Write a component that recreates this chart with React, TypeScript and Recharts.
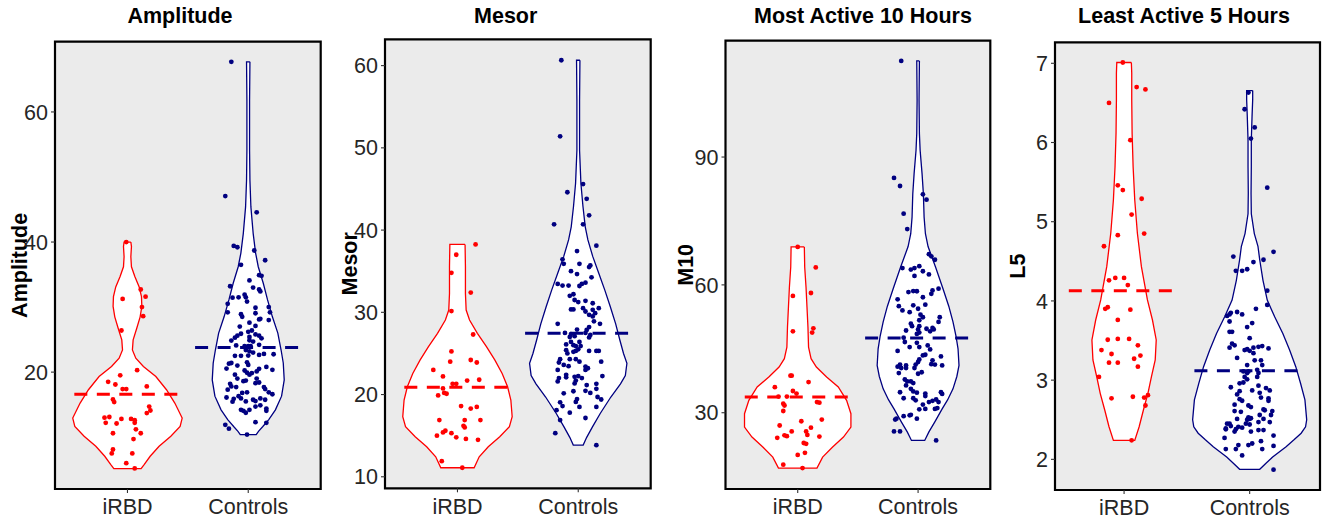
import React from 'react';
import { ScatterChart, Scatter, XAxis, YAxis, CartesianGrid, ReferenceArea } from 'recharts';

const FONT = '"Liberation Sans", Arial, Helvetica, sans-serif';
const RED = '#FF0000';
const NAVY = '#000080';

const GROUPS = ['iRBD', 'Controls'];
const TITLES = ['Amplitude', 'Mesor', 'Most Active 10 Hours', 'Least Active 5 Hours'];
const Y_LABELS = ['Amplitude', 'Mesor', 'M10', 'L5'];

// ---- Amplitude ----
const AMP_DOMAIN = [2.03, 70.8];
const AMP_TICKS = [20, 40, 60];
const AMP_MEANS = [16.6, 23.8];
// [y, half width] read top to bottom
const AMP_IRBD_VIOLIN = [
  [40.0, 0.028], [39.3, 0.033], [37.75, 0.028], [36.2, 0.033], [34.7, 0.061], [33.1, 0.097],
  [31.6, 0.116], [30.1, 0.119], [28.5, 0.105], [26.75, 0.077], [24.96, 0.047], [23.4, 0.041],
  [22.15, 0.069], [20.87, 0.132], [19.33, 0.235], [17.29, 0.323], [15.24, 0.392], [12.94, 0.453],
  [11.66, 0.436], [10.13, 0.359], [8.59, 0.262], [7.06, 0.188], [5.78, 0.138], [5.17, 0.113],
];
const AMP_CTRL_VIOLIN = [
  [67.7, 0.014], [61.8, 0.011], [54.1, 0.011], [49.5, 0.014], [45.4, 0.022], [41.3, 0.041],
  [38.3, 0.061], [36.2, 0.083], [33.7, 0.124], [31.1, 0.16], [28.5, 0.2], [26.0, 0.245],
  [23.4, 0.272], [21.4, 0.29], [18.8, 0.298], [16.3, 0.276], [14.2, 0.225], [12.7, 0.17],
  [11.6, 0.119], [10.9, 0.085], [10.4, 0.066],
];
// [x offset from group, y]
const AMP_IRBD_POINTS = [
  [-0.01, 40.0], [-0.04, 31.25], [0.11, 32.7], [0.15, 31.6], [0.12, 30.0], [0.13, 28.6], [-0.05, 26.4],
  [0.08, 20.3], [-0.06, 19.5], [-0.16, 18.5], [-0.1, 18.1], [-0.04, 17.4], [-0.01, 17.4], [0.16, 17.8],
  [-0.12, 15.8], [-0.11, 15.4], [0.18, 14.7], [0.19, 14.1], [0.16, 13.7], [-0.19, 13.0], [-0.15, 13.1],
  [-0.18, 12.2], [-0.09, 12.1], [-0.05, 12.8], [0.03, 12.8], [0.06, 12.6], [0.06, 12.2], [-0.12, 10.6],
  [0.07, 11.2], [0.11, 10.6], [0.05, 9.7], [-0.12, 8.1], [-0.13, 7.5], [0.04, 7.5], [-0.01, 6.0], [0.06, 5.2],
];
const AMP_CTRL_POINTS = [
  [-0.14, 67.7], [-0.19, 47.06], [0.07, 44.56], [-0.12, 39.4], [-0.09, 39.2], [0.05, 38.7], [0.14, 37.2],
  [-0.06, 36.5], [0.01, 34.1], [0.09, 34.9], [0.11, 34.8], [-0.15, 33.2], [0.04, 33.0], [0.09, 32.7],
  [0.1, 32.4], [-0.13, 31.45], [-0.08, 31.5], [-0.03, 31.9], [-0.02, 31.5], [-0.01, 30.85], [-0.17, 30.5],
  [0.17, 30.0], [0.06, 29.9], [-0.17, 29.2], [0.06, 29.05], [0.18, 29.2], [-0.06, 28.9], [-0.05, 28.5],
  [0.1, 28.2], [0.09, 28.1], [0.17, 28.0], [0.01, 27.6], [-0.07, 27.0], [0.06, 27.1], [0, 26.2],
  [0.03, 26.4], [-0.06, 25.9], [-0.09, 25.6], [0.06, 25.8], [0.09, 25.6], [-0.11, 25.3], [0.01, 25.4],
  [0.01, 24.9], [0.11, 25.2], [0.04, 24.7], [-0.14, 24.85], [-0.1, 24.1], [-0.03, 24.0], [0, 24.0],
  [0.02, 24.0], [0.09, 24.2], [-0.02, 23.4], [0.01, 23.2], [0.04, 23.0], [-0.11, 22.5], [-0.06, 22.5],
  [0, 22.55], [0.09, 22.65], [0.13, 22.8], [0.21, 22.75], [-0.16, 21.3], [-0.14, 21.4], [-0.18, 20.55],
  [-0.09, 21.0], [-0.01, 21.5], [0, 21.1], [0.09, 20.5], [0.15, 20.8], [0.2, 20.35], [-0.03, 20.25],
  [-0.01, 19.9], [0.03, 19.85], [0.01, 19.6], [0.07, 20.1], [-0.11, 19.6], [-0.09, 19.0], [0.07, 19.0],
  [-0.15, 18.2], [-0.14, 17.8], [-0.17, 17.3], [-0.04, 18.6], [-0.02, 18.7], [0.09, 18.4], [0.06, 18.3],
  [0.13, 17.7], [0.14, 17.4], [-0.1, 17.7], [-0.01, 16.9], [-0.05, 16.8], [0.17, 16.9], [0.2, 16.6],
  [-0.18, 16.1], [-0.12, 15.9], [-0.08, 16.3], [-0.06, 15.95], [0.06, 15.55], [0.04, 15.75], [0.1, 15.95],
  [0.14, 15.75], [-0.02, 15.5], [-0.13, 15.45], [0.15, 14.4], [0.15, 14.05], [-0.06, 14.2], [-0.04, 14.05],
  [-0.02, 13.75], [0.01, 14.2], [0.06, 14.7], [0.1, 14.9], [-0.19, 11.9], [-0.16, 11.3], [0.06, 12.3],
  [0.15, 12.2], [-0.01, 10.4],
];

// ---- Mesor ----
const MES_DOMAIN = [8.6, 63.2];
const MES_TICKS = [10, 20, 30, 40, 50, 60];
const MES_MEANS = [20.9, 27.45];
const MES_IRBD_VIOLIN = [
  [38.26, 0.063], [35.55, 0.066], [32.3, 0.066], [30.28, 0.072], [29.06, 0.1], [27.44, 0.165],
  [25.82, 0.24], [24.19, 0.31], [22.57, 0.37], [20.95, 0.415], [19.33, 0.442], [17.3, 0.453],
  [16.08, 0.43], [14.87, 0.35], [13.65, 0.255], [12.43, 0.18], [11.1, 0.138],
];
const MES_CTRL_VIOLIN = [
  [60.65, 0.014], [55.8, 0.011], [49.7, 0.011], [45.7, 0.022], [42.9, 0.039], [40.4, 0.058],
  [38.8, 0.08], [36.8, 0.12], [34.75, 0.17], [32.7, 0.22], [30.7, 0.265], [28.6, 0.31],
  [26.6, 0.345], [25.0, 0.375], [23.8, 0.403], [22.3, 0.39], [21.3, 0.35], [19.7, 0.27],
  [17.7, 0.182], [16.1, 0.119], [14.8, 0.07], [13.85, 0.041],
];
const MES_IRBD_POINTS = [
  [0.15, 38.26], [-0.01, 37.0], [-0.05, 34.8], [0.11, 32.4], [-0.05, 30.15], [0.13, 27.3], [-0.05, 25.25],
  [0.11, 24.2], [-0.06, 24.0], [0.16, 23.9], [-0.2, 23.0], [-0.12, 22.2], [0.08, 21.7], [0.18, 21.8],
  [-0.04, 21.3], [-0.01, 21.3], [-0.12, 20.75], [-0.11, 20.2], [-0.09, 20.1], [-0.16, 19.9], [0.03, 18.6],
  [0.11, 18.3], [0.16, 18.5], [-0.15, 16.9], [0.06, 16.9], [0.19, 16.9], [0.05, 16.2], [0.06, 16.0],
  [-0.1, 15.6], [-0.12, 15.4], [-0.05, 15.3], [-0.17, 15.0], [-0.01, 14.8], [0.07, 14.6], [0.17, 14.5],
  [-0.13, 11.9], [0.04, 11.1],
];
const MES_CTRL_POINTS = [
  [-0.14, 60.65], [-0.15, 51.4], [-0.09, 44.6], [0.04, 45.6], [0.07, 43.8], [0.09, 41.8], [-0.2, 40.7],
  [0.04, 40.7], [0.15, 38.1], [-0.01, 37.45], [-0.13, 36.45], [-0.12, 35.9], [0.01, 35.9], [0.09, 35.5],
  [0.1, 35.7], [-0.06, 35.0], [-0.01, 34.65], [0.11, 34.25], [-0.17, 33.45], [-0.13, 33.25], [-0.08, 33.25],
  [0.03, 33.45], [0.06, 33.6], [0.01, 33.2], [-0.04, 32.2], [-0.07, 32.0], [-0.03, 31.5], [0, 31.25],
  [0.06, 31.4], [0.12, 31.1], [-0.06, 30.35], [-0.04, 30.35], [0.04, 30.5], [0.06, 30.1], [0.12, 30.3],
  [0.14, 29.9], [0.17, 30.5], [0.09, 29.7], [0.12, 29.5], [-0.17, 28.6], [0.13, 28.9], [0.18, 28.6],
  [-0.01, 27.9], [0.07, 27.85], [0.09, 28.2], [-0.11, 27.5], [-0.06, 27.35], [0.06, 27.5], [0.1, 27.25],
  [-0.07, 27.0], [-0.03, 27.1], [0.09, 26.95], [-0.06, 26.4], [-0.04, 26.0], [-0.02, 25.9], [0.02, 25.9],
  [-0.1, 26.1], [0.01, 26.4], [-0.1, 25.4], [-0.09, 25.0], [-0.04, 25.2], [-0.02, 25.3], [0, 25.5],
  [0.15, 25.3], [0.17, 25.3], [0.09, 25.3], [-0.07, 24.3], [-0.02, 24.3], [-0.15, 24.3], [-0.16, 23.9],
  [-0.12, 23.6], [-0.08, 23.45], [0.01, 24.0], [0.06, 23.4], [0.08, 23.2], [0.06, 23.0], [0.19, 24.0],
  [-0.17, 23.0], [-0.16, 22.0], [-0.17, 21.6], [-0.1, 22.4], [-0.1, 22.1], [-0.03, 22.15], [0, 22.25],
  [-0.02, 21.7], [-0.03, 21.35], [0.03, 22.0], [0.2, 22.25], [0.07, 21.15], [0.15, 21.3], [0.15, 20.7],
  [-0.12, 20.15], [-0.04, 20.4], [0.06, 20.45], [0.1, 20.2], [0.16, 19.7], [0.19, 19.4], [-0.01, 19.45],
  [-0.02, 19.1], [-0.15, 19.05], [-0.13, 18.6], [-0.07, 17.8], [0.01, 18.5], [0.15, 18.5], [-0.18, 18.1],
  [-0.15, 16.9], [0.06, 17.15], [-0.19, 15.3], [0.15, 13.85],
];

// ---- M10 ----
const M10_DOMAIN = [12.1, 117.3];
const M10_TICKS = [30, 60, 90];
const M10_MEANS = [33.7, 47.55];
const M10_IRBD_VIOLIN = [
  [68.9, 0.055], [64.19, 0.058], [59.5, 0.069], [54.8, 0.077], [50.11, 0.085], [45.41, 0.09],
  [42.68, 0.111], [40.72, 0.155], [38.37, 0.24], [36.03, 0.337], [32.9, 0.406], [29.77, 0.442],
  [26.64, 0.442], [24.29, 0.38], [21.94, 0.29], [19.59, 0.207], [17.0, 0.16],
];
const M10_CTRL_VIOLIN = [
  [112.55, 0.011], [103.3, 0.008], [95.5, 0.011], [91.6, 0.017], [86.1, 0.033], [81.4, 0.044],
  [75.9, 0.05], [72.0, 0.061], [69.0, 0.083], [66.9, 0.11], [64.2, 0.145], [59.1, 0.207],
  [55.0, 0.255], [51.3, 0.29], [48.0, 0.315], [45.0, 0.332], [41.1, 0.34], [38.5, 0.322],
  [35.6, 0.29], [33.0, 0.245], [30.9, 0.2], [27.8, 0.138], [25.5, 0.09], [23.5, 0.055],
];
const M10_IRBD_POINTS = [
  [0, 68.9], [0.15, 64.1], [-0.04, 57.4], [0.11, 58.1], [-0.04, 49.1], [0.13, 49.8], [0.12, 48.8],
  [-0.06, 38.7], [-0.05, 38.7], [0.09, 37.2], [-0.19, 36.0], [-0.04, 35.1], [-0.01, 34.5], [-0.16, 33.8],
  [-0.09, 33.8], [0.16, 32.5], [0.18, 32.35], [-0.12, 32.1], [-0.11, 31.7], [-0.12, 30.4], [0.2, 28.4],
  [0.03, 28.0], [-0.15, 27.0], [0.11, 26.5], [-0.05, 25.6], [0.07, 25.6], [0.08, 24.8], [-0.11, 24.7],
  [-0.09, 24.5], [-0.17, 24.1], [0.18, 24.4], [0.05, 22.9], [0.07, 22.7], [0, 20.1], [0.06, 20.6],
  [-0.12, 17.8], [0.04, 17.0],
];
const M10_CTRL_POINTS = [
  [-0.14, 112.55], [-0.2, 85.1], [-0.15, 83.2], [0.04, 81.25], [0.07, 80.0], [-0.12, 76.7], [-0.09, 73.1],
  [0.09, 67.2], [0.11, 66.7], [0.14, 65.9], [-0.13, 63.95], [-0.06, 63.6], [-0.03, 63.95], [0.01, 64.4],
  [0.04, 63.2], [-0.03, 62.1], [0.09, 62.45], [-0.08, 58.3], [-0.04, 58.55], [-0.01, 58.5], [0.04, 57.1],
  [0.12, 58.7], [0.11, 57.9], [0.17, 59.1], [-0.17, 56.6], [-0.04, 55.2], [0, 54.4], [0.06, 55.35],
  [-0.16, 55.0], [-0.13, 54.0], [-0.07, 53.6], [0.02, 53.0], [0.04, 52.4], [0.01, 51.7], [0.18, 52.4],
  [0.17, 51.3], [-0.06, 50.9], [-0.05, 50.3], [0.01, 50.3], [0, 49.55], [0.07, 49.7], [0.1, 49.1],
  [0.12, 49.9], [0.13, 49.55], [-0.1, 49.3], [-0.01, 48.5], [0.01, 48.8], [-0.12, 47.6], [-0.11, 46.6],
  [-0.07, 45.4], [-0.01, 46.4], [0.01, 45.4], [0.08, 45.8], [0.1, 44.85], [-0.17, 44.5], [0.04, 43.45],
  [0.06, 43.6], [0.01, 42.5], [0, 41.9], [0.19, 43.2], [0.12, 42.3], [0.11, 41.4], [0.14, 41.3],
  [0.2, 41.1], [-0.17, 40.8], [-0.15, 41.3], [-0.14, 40.5], [-0.1, 41.1], [-0.1, 40.5], [-0.02, 41.3],
  [-0.03, 40.5], [-0.16, 39.3], [0, 39.15], [0.03, 39.5], [-0.11, 37.8], [-0.09, 37.35], [-0.06, 37.35],
  [-0.04, 36.95], [-0.1, 36.4], [-0.15, 34.8], [-0.12, 33.4], [-0.06, 35.6], [-0.04, 35.0], [-0.01, 34.7],
  [0.06, 34.5], [0.06, 33.9], [0.19, 34.8], [0.2, 34.4], [-0.04, 33.4], [-0.02, 32.9], [0.09, 32.5],
  [0.12, 32.8], [0.15, 33.1], [0.17, 32.5], [0.04, 31.9], [0.06, 30.9], [0.01, 30.8], [0.14, 30.9],
  [0.16, 31.1], [-0.18, 28.6], [-0.19, 28.4], [-0.12, 29.2], [-0.07, 29.4], [-0.06, 29.5], [-0.01, 28.6],
  [-0.2, 25.6], [-0.15, 25.6], [0.15, 23.5],
];

// ---- L5 ----
const L5_DOMAIN = [1.613, 7.265];
const L5_TICKS = [2, 3, 4, 5, 6, 7];
const L5_MEANS = [4.13, 3.12];
const L5_IRBD_VIOLIN = [
  [7.01, 0.058], [6.874, 0.061], [6.537, 0.061], [6.116, 0.064], [5.695, 0.072], [5.274, 0.085],
  [4.854, 0.106], [4.433, 0.138], [4.012, 0.186], [3.759, 0.226], [3.507, 0.256], [3.254, 0.248],
  [3.044, 0.218], [2.833, 0.19], [2.623, 0.154], [2.412, 0.12], [2.24, 0.085],
];
const L5_CTRL_VIOLIN = [
  [6.655, 0.024], [6.54, 0.024], [6.33, 0.019], [6.03, 0.013], [5.7, 0.013], [5.36, 0.011],
  [5.1, 0.013], [4.85, 0.037], [4.69, 0.066], [4.52, 0.08], [4.26, 0.106], [4.01, 0.14],
  [3.8, 0.199], [3.59, 0.264], [3.38, 0.318], [3.17, 0.367], [2.96, 0.405], [2.75, 0.44],
  [2.5, 0.454], [2.41, 0.445], [2.33, 0.41], [2.25, 0.355], [2.16, 0.29], [2.03, 0.183],
  [1.95, 0.13], [1.874, 0.08],
];
const L5_IRBD_POINTS = [
  [-0.01, 7.01], [0.1, 6.7], [0.17, 6.67], [-0.12, 6.5], [0.05, 6.03], [-0.05, 5.46], [-0.01, 5.4],
  [0.14, 5.29], [0.06, 5.09], [0.16, 4.85], [-0.05, 4.83], [-0.16, 4.69], [-0.12, 4.26], [-0.07, 4.29],
  [0, 4.29], [0.03, 4.2], [-0.15, 3.9], [-0.13, 3.92], [0.05, 3.89], [-0.05, 3.76], [-0.13, 3.51],
  [-0.05, 3.52], [0.04, 3.52], [0.11, 3.44], [-0.18, 3.38], [-0.1, 3.33], [0.13, 3.31], [0.08, 3.27],
  [-0.12, 3.22], [-0.05, 3.22], [0.11, 3.17], [-0.2, 3.04], [-0.1, 2.77], [0.07, 2.79], [0.19, 2.81],
  [0.16, 2.78], [0.17, 2.68], [0.06, 2.24],
];
const L5_CTRL_POINTS = [
  [-0.01, 6.63], [-0.04, 6.42], [0.04, 6.19], [0.01, 6.05], [0.14, 5.43], [0.19, 4.62], [-0.13, 4.56],
  [0.11, 4.52], [0.03, 4.49], [-0.11, 4.38], [-0.06, 4.38], [-0.02, 4.4], [0.14, 4.13], [0.14, 3.95],
  [0.05, 3.9], [-0.18, 3.81], [-0.16, 3.83], [-0.15, 3.85], [-0.1, 3.86], [-0.06, 3.83], [-0.16, 3.74],
  [0.02, 3.72], [-0.02, 3.67], [-0.16, 3.61], [-0.14, 3.61], [0, 3.53], [-0.14, 3.46], [-0.12, 3.44],
  [-0.16, 3.41], [-0.04, 3.38], [-0.02, 3.39], [0, 3.37], [0.03, 3.41], [0.07, 3.42], [0.1, 3.43],
  [0.15, 3.4], [0.03, 3.34], [-0.1, 3.28], [0.09, 3.25], [-0.02, 3.19], [0.04, 3.25], [0.1, 3.19],
  [-0.05, 3.11], [-0.02, 3.09], [-0.01, 3.11], [0.06, 3.13], [0.07, 3.09], [-0.04, 3.04], [-0.02, 3.01],
  [0.06, 3.04], [-0.08, 2.96], [-0.05, 2.97], [-0.15, 2.91], [0.07, 2.93], [-0.08, 2.86], [0.02, 2.87],
  [0.13, 2.9], [0.16, 2.87], [-0.1, 2.82], [0.08, 2.84], [0.09, 2.78], [-0.08, 2.76], [-0.06, 2.74],
  [0.15, 2.77], [0.15, 2.74], [-0.12, 2.69], [-0.01, 2.68], [0.01, 2.66], [0.11, 2.63], [0.12, 2.62],
  [-0.12, 2.61], [-0.07, 2.6], [0.18, 2.61], [0.17, 2.56], [0.08, 2.56], [-0.01, 2.53], [0.01, 2.52],
  [-0.02, 2.5], [0, 2.51], [-0.1, 2.51], [0.11, 2.51], [0.16, 2.47], [0.07, 2.47], [-0.18, 2.45],
  [-0.16, 2.45], [-0.15, 2.42], [-0.03, 2.45], [0, 2.44], [-0.09, 2.41], [-0.06, 2.4], [-0.19, 2.39],
  [-0.19, 2.38], [-0.11, 2.38], [-0.12, 2.35], [0.01, 2.35], [0.07, 2.37], [0.11, 2.37], [-0.2, 2.27],
  [0.19, 2.3], [-0.01, 2.18], [0.02, 2.2], [-0.09, 2.18], [0.09, 2.23], [-0.19, 2.13], [-0.11, 2.13],
  [0.1, 2.13], [0.19, 2.17], [-0.06, 2.05], [0.19, 1.87],
];

const PANEL_DATA = [
  { domain: AMP_DOMAIN, ticks: AMP_TICKS, means: AMP_MEANS, violins: [AMP_IRBD_VIOLIN, AMP_CTRL_VIOLIN], points: [AMP_IRBD_POINTS, AMP_CTRL_POINTS] },
  { domain: MES_DOMAIN, ticks: MES_TICKS, means: MES_MEANS, violins: [MES_IRBD_VIOLIN, MES_CTRL_VIOLIN], points: [MES_IRBD_POINTS, MES_CTRL_POINTS] },
  { domain: M10_DOMAIN, ticks: M10_TICKS, means: M10_MEANS, violins: [M10_IRBD_VIOLIN, M10_CTRL_VIOLIN], points: [M10_IRBD_POINTS, M10_CTRL_POINTS] },
  { domain: L5_DOMAIN, ticks: L5_TICKS, means: L5_MEANS, violins: [L5_IRBD_VIOLIN, L5_CTRL_VIOLIN], points: [L5_IRBD_POINTS, L5_CTRL_POINTS] },
];

// where each panel sits on the page
const LAYOUT = [
  { left: 0, width: 330, top: 41.7, bottom: 2, right: 9.3, axisW: 55, xDomain: [0.4, 2.6], titleX: 180, yTitleX: 20.5 },
  { left: 330, width: 330, top: 39.3, bottom: 2.7, right: 9.3, axisW: 55, xDomain: [0.4, 2.6], titleX: 505.7, yTitleX: 20.5 },
  { left: 660, width: 335, top: 40.7, bottom: 2, right: 4.7, axisW: 65.5, xDomain: [0.4, 2.6], titleX: 863, yTitleX: 31.5 },
  { left: 995, width: 330, top: 42.3, bottom: 1, right: 5, axisW: 60, xDomain: [0.45, 2.56], titleX: 1184, yTitleX: 26 },
];

const HEIGHT = 519;
const X_AXIS_H = 28;
const COLORS = [RED, NAVY];
const BAR_HALF = 0.44;

const violinOutline = (profile: number[][], center: number) => [
  ...profile.map(([y, hw]) => ({ x: center + hw, y })),
  ...profile.slice().reverse().map(([y, hw]) => ({ x: center - hw, y })),
  { x: center + profile[0][1], y: profile[0][0] },
];
const jitter = (pts: number[][], center: number) => pts.map(([dx, y]) => ({ x: center + dx, y }));
const meanBar = (m: number, center: number) => [
  { x: center - BAR_HALF, y: m },
  { x: center + BAR_HALF, y: m },
];

const Empty = () => <g />;
const makeDot = (color: string) => (props: any) => (
  <circle cx={props.cx} cy={props.cy} r={2.4} fill={color} />
);
const DOTS = [makeDot(RED), makeDot(NAVY)];

const AxisTitle = ({ text, x, cy }: any) => (
  <text
    x={x}
    y={cy}
    transform={`rotate(-90 ${x} ${cy})`}
    textAnchor="middle"
    fill="#000"
    style={{ fontFamily: FONT, fontSize: 21.5, fontWeight: 700 }}
  >
    {text}
  </text>
);

const tickStyle = { fill: '#262626', fontSize: 21.5, fontFamily: FONT };
const tickLine = { stroke: '#333333', strokeWidth: 1.1 };

function ViolinPanel({ i }: { i: number }) {
  const L = LAYOUT[i];
  const d = PANEL_DATA[i];
  const plotBottom = HEIGHT - L.bottom - X_AXIS_H;
  const cy = (L.top + plotBottom) / 2;

  return (
    <div style={{ position: 'absolute', left: L.left, top: 0 }}>
      <ScatterChart
        width={L.width}
        height={HEIGHT}
        margin={{ top: L.top, right: L.right, bottom: L.bottom, left: 0 }}
      >
        <CartesianGrid fill="#EBEBEB" horizontal={false} vertical={false} stroke="none" />
        <XAxis
          type="number"
          dataKey="x"
          domain={L.xDomain}
          ticks={[1, 2]}
          interval={0}
          allowDataOverflow
          tickFormatter={(v: number) => GROUPS[Math.round(v) - 1]}
          axisLine={false}
          tickLine={tickLine}
          tickSize={4}
          tickMargin={6}
          height={X_AXIS_H}
          tick={tickStyle}
        />
        <YAxis
          type="number"
          dataKey="y"
          domain={d.domain}
          ticks={d.ticks}
          interval={0}
          allowDataOverflow
          axisLine={false}
          tickLine={tickLine}
          tickSize={4}
          tickMargin={3}
          width={L.axisW}
          tick={tickStyle}
          label={<AxisTitle text={Y_LABELS[i]} x={L.yTitleX} cy={cy} />}
        />
        <ReferenceArea
          x1={L.xDomain[0]}
          x2={L.xDomain[1]}
          y1={d.domain[0]}
          y2={d.domain[1]}
          fill="none"
          fillOpacity={0}
          stroke="#000"
          strokeWidth={2.2}
        />
        {d.violins.map((v, g) => (
          <Scatter
            key={`violin-${g}`}
            data={violinOutline(v, g + 1)}
            line={{ stroke: COLORS[g], strokeWidth: 1.3, fill: '#FFFFFF' }}
            lineJointType="linear"
            shape={Empty}
            isAnimationActive={false}
          />
        ))}
        {d.points.map((p, g) => (
          <Scatter
            key={`points-${g}`}
            data={jitter(p, g + 1)}
            shape={DOTS[g]}
            fill={COLORS[g]}
            isAnimationActive={false}
          />
        ))}
        {d.means.map((m, g) => (
          <Scatter
            key={`mean-${g}`}
            data={meanBar(m, g + 1)}
            line={{ stroke: COLORS[g], strokeWidth: 3, strokeDasharray: '13 9.5' }}
            lineJointType="linear"
            shape={Empty}
            isAnimationActive={false}
          />
        ))}
      </ScatterChart>
    </div>
  );
}

export default function App() {
  return (
    <div
      style={{
        position: 'absolute',
        left: 0,
        top: 0,
        width: 1325,
        height: HEIGHT,
        background: '#FFFFFF',
        overflow: 'hidden',
        fontFamily: FONT,
      }}
    >
      {LAYOUT.map((_, i) => (
        <ViolinPanel key={i} i={i} />
      ))}
      <svg
        width={1325}
        height={HEIGHT}
        style={{ position: 'absolute', left: 0, top: 0, pointerEvents: 'none' }}
      >
        {TITLES.map((t, i) => (
          <text
            key={t}
            x={LAYOUT[i].titleX}
            y={22.5}
            textAnchor="middle"
            fill="#000"
            style={{ fontFamily: FONT, fontSize: 21.5, fontWeight: 700 }}
          >
            {t}
          </text>
        ))}
      </svg>
    </div>
  );
}
